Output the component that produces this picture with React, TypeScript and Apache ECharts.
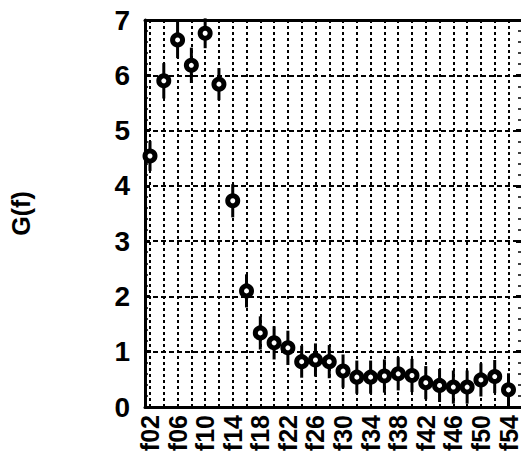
import React, { useEffect, useRef } from "react";
import * as echarts from "echarts";

const categories = ["f02","f04","f06","f08","f10","f12","f14","f16","f18","f20","f22","f24","f26","f28","f30","f32","f34","f36","f38","f40","f42","f44","f46","f48","f50","f52","f54"];
const values = [4.54, 5.90, 6.64, 6.18, 6.76, 5.84, 3.73, 2.10, 1.34, 1.16, 1.07, 0.82, 0.85, 0.82, 0.65, 0.54, 0.54, 0.56, 0.60, 0.57, 0.44, 0.39, 0.36, 0.36, 0.49, 0.55, 0.31];
const errors = [0.27, 0.32, 0.33, 0.32, 0.27, 0.29, 0.30, 0.30, 0.30, 0.30, 0.31, 0.29, 0.30, 0.30, 0.30, 0.30, 0.30, 0.30, 0.30, 0.30, 0.30, 0.30, 0.30, 0.30, 0.30, 0.30, 0.30];
const yTicks = { min: 0, max: 7, interval: 1 };

const FONT = "Liberation Sans, Arial, Helvetica, sans-serif";

export default function App() {
  const ref = useRef<HTMLDivElement>(null);
  useEffect(() => {
    if (!ref.current) return;
    const chart = echarts.init(ref.current, null, { renderer: "svg" });
    const errData = values.map((v, i) => [i, v - errors[i], v + errors[i]]);
    const ptData = values.map((v, i) => [i, v]);
    const frameX = (pos: string) => ({
      gridIndex: 0, type: "value", min: 0, max: 1, position: pos,
      axisLine: { show: true, onZero: false, lineStyle: { color: "#000", width: 3 } },
      axisTick: { show: false }, axisLabel: { show: false }, splitLine: { show: false },
    });
    chart.setOption({
      animation: false,
      backgroundColor: "#fff",
      grid: [
        { left: 138, top: 20, width: 384, height: 387 },
        { left: 150, top: 20, width: 361, height: 387 },
      ],
      xAxis: [
        frameX("bottom"),
        frameX("top"),
        {
          gridIndex: 1, type: "category", data: categories, boundaryGap: false, position: "bottom",
          axisLine: { show: false, onZero: false }, axisTick: { show: false },
          axisLabel: { interval: 1, rotate: 90, margin: 8, color: "#000", fontSize: 25, fontWeight: "bold", fontFamily: FONT },
          splitLine: { show: true, interval: 0, lineStyle: { color: "#000", width: 2, type: [3, 3] } },
        },
      ],
      yAxis: [
        {
          gridIndex: 0, type: "value", min: yTicks.min, max: yTicks.max, interval: yTicks.interval, position: "left",
          name: "G(f)", nameLocation: "middle", nameGap: 112, nameRotate: 90,
          nameTextStyle: { color: "#000", fontSize: 25, fontWeight: "bold", fontFamily: FONT },
          axisLine: { show: true, onZero: false, lineStyle: { color: "#000", width: 3 } },
          axisTick: { show: true, inside: true, length: 5, lineStyle: { color: "#000", width: 3 } },
          minorTick: { show: true, splitNumber: 5, length: 3, lineStyle: { color: "#000", width: 1.5 } },
          axisLabel: { margin: 15, color: "#000", fontSize: 28, fontWeight: "bold", fontFamily: FONT },
          splitLine: { show: true, lineStyle: { color: "#000", width: 1.8, type: [5, 3] } },
        },
        {
          gridIndex: 0, type: "value", min: yTicks.min, max: yTicks.max, interval: yTicks.interval, position: "right",
          axisLine: { show: false, onZero: false },
          axisTick: { show: true, inside: true, length: 5, lineStyle: { color: "#000", width: 3 } },
          minorTick: { show: true, splitNumber: 5, length: 3, lineStyle: { color: "#000", width: 1.5 } },
          axisLabel: { show: false }, splitLine: { show: false },
        },
        {
          gridIndex: 1, type: "value", min: yTicks.min, max: yTicks.max, interval: yTicks.interval, show: false,
          splitLine: { show: false },
        },
      ],
      series: [
        {
          type: "custom",
          xAxisIndex: 2, yAxisIndex: 2,
          data: errData,
          z: 4,
          renderItem: (params: any, api: any) => {
            const lo = api.coord([api.value(0), api.value(1)]);
            const hi = api.coord([api.value(0), api.value(2)]);
            return {
              type: "line",
              shape: { x1: lo[0], y1: lo[1], x2: hi[0], y2: hi[1] },
              style: { stroke: "#000", lineWidth: 3 },
            };
          },
        },
        {
          type: "scatter",
          xAxisIndex: 2, yAxisIndex: 2,
          data: ptData,
          z: 5,
          symbol: "circle",
          symbolSize: 10,
          itemStyle: { color: "#fff", borderColor: "#000", borderWidth: 5, opacity: 1 },
        },
      ],
    });
    return () => chart.dispose();
  }, []);
  return <div ref={ref} style={{ position: "fixed", left: 0, top: 0, width: 521, height: 462 }} />;
}
